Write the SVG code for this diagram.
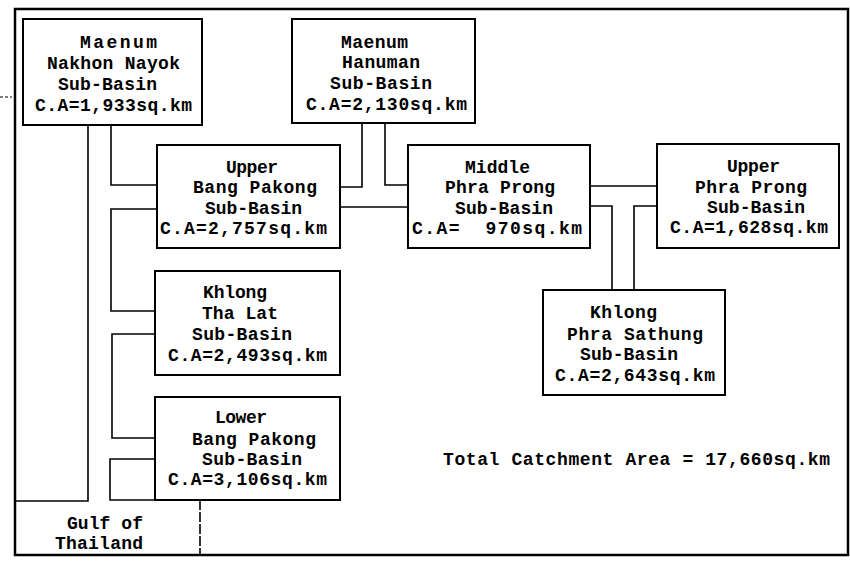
<svg xmlns="http://www.w3.org/2000/svg" width="850" height="561" viewBox="0 0 850 561">
<style>
.box{fill:#fff;stroke:#000;stroke-width:2}
.ln{fill:none;stroke:#000;stroke-width:1.6}
text{font-family:"Liberation Mono","DejaVu Sans Mono",monospace;font-size:18px;font-weight:bold;fill:#000;white-space:pre}
</style>
<rect width="850" height="561" fill="#fff"/>
<rect x="15" y="9" width="833" height="546" fill="none" stroke="#000" stroke-width="2.5"/>
<path d="M0 97 H12" stroke="#000" stroke-width="1.2" stroke-dasharray="3 2"/>
<g id="connectors" class="ln">
<path d="M88 125 V501 H15"/>
<path d="M111 125 V185 H157"/>
<path d="M157 209 H111 V311 H155"/>
<path d="M155 334 H112 V438 H155"/>
<path d="M155 459 H110 V500 H200"/>
<path d="M200 500 V555" stroke-dasharray="10 2"/>
<path d="M340 187 H362 V123"/>
<path d="M385 123 V185 H408"/>
<path d="M340 207 H408"/>
<path d="M590 186 H657"/>
<path d="M590 206 H612 V290"/>
<path d="M657 206 H634 V290"/>
</g>
<g id="nakhon-nayok">
<rect class="box" x="23" y="19" width="179" height="106"/>
<text x="80" y="48" textLength="77">Maenum</text>
<text x="47" y="69" textLength="133">Nakhon Nayok</text>
<text x="58" y="90" textLength="99">Sub-Basin</text>
<text x="35" y="111" textLength="157">C.A=1,933sq.km</text>
</g>
<g id="hanuman">
<rect class="box" x="292" y="19" width="183" height="104"/>
<text x="341" y="48" textLength="67">Maenum</text>
<text x="342" y="68" textLength="78">Hanuman</text>
<text x="330" y="89" textLength="102">Sub-Basin</text>
<text x="306" y="110" textLength="161">C.A=2,130sq.km</text>
</g>
<g id="upper-bang-pakong">
<rect class="box" x="157" y="145" width="183" height="103"/>
<text x="226" y="173" textLength="52">Upper</text>
<text x="193" y="193" textLength="124">Bang Pakong</text>
<text x="205" y="214" textLength="97">Sub-Basin</text>
<text x="160" y="234" textLength="167">C.A=2,757sq.km</text>
</g>
<g id="middle-phra-prong">
<rect class="box" x="408" y="145" width="182" height="103"/>
<text x="465" y="173" textLength="65">Middle</text>
<text x="445" y="193" textLength="110">Phra Prong</text>
<text x="455" y="214" textLength="98">Sub-Basin</text>
<text x="412" y="234" textLength="170">C.A=  970sq.km</text>
</g>
<g id="upper-phra-prong">
<rect class="box" x="657" y="144" width="182" height="104"/>
<text x="727" y="172" textLength="53">Upper</text>
<text x="695" y="193" textLength="112">Phra Prong</text>
<text x="707" y="213" textLength="98">Sub-Basin</text>
<text x="670" y="233" textLength="158">C.A=1,628sq.km</text>
</g>
<g id="khlong-tha-lat">
<rect class="box" x="155" y="271" width="185" height="104"/>
<text x="203" y="298" textLength="64">Khlong</text>
<text x="202" y="319" textLength="76">Tha Lat</text>
<text x="192" y="340" textLength="100">Sub-Basin</text>
<text x="168" y="361" textLength="159">C.A=2,493sq.km</text>
</g>
<g id="lower-bang-pakong">
<rect class="box" x="155" y="397" width="185" height="103"/>
<text x="215" y="423" textLength="52">Lower</text>
<text x="192" y="445" textLength="124">Bang Pakong</text>
<text x="202" y="465" textLength="100">Sub-Basin</text>
<text x="168" y="485" textLength="159">C.A=3,106sq.km</text>
</g>
<g id="khlong-phra-sathung">
<rect class="box" x="543" y="290" width="182" height="105"/>
<text x="590" y="318" textLength="67">Khlong</text>
<text x="567" y="340" textLength="136">Phra Sathung</text>
<text x="580" y="360" textLength="98">Sub-Basin</text>
<text x="555" y="381" textLength="160">C.A=2,643sq.km</text>
</g>
<g id="gulf-of-thailand">
<text x="67" y="529" textLength="76">Gulf of</text>
<text x="55" y="549" textLength="88">Thailand</text>
</g>
<g id="total">
<text x="443" y="465" textLength="387">Total Catchment Area = 17,660sq.km</text>
</g>
</svg>
